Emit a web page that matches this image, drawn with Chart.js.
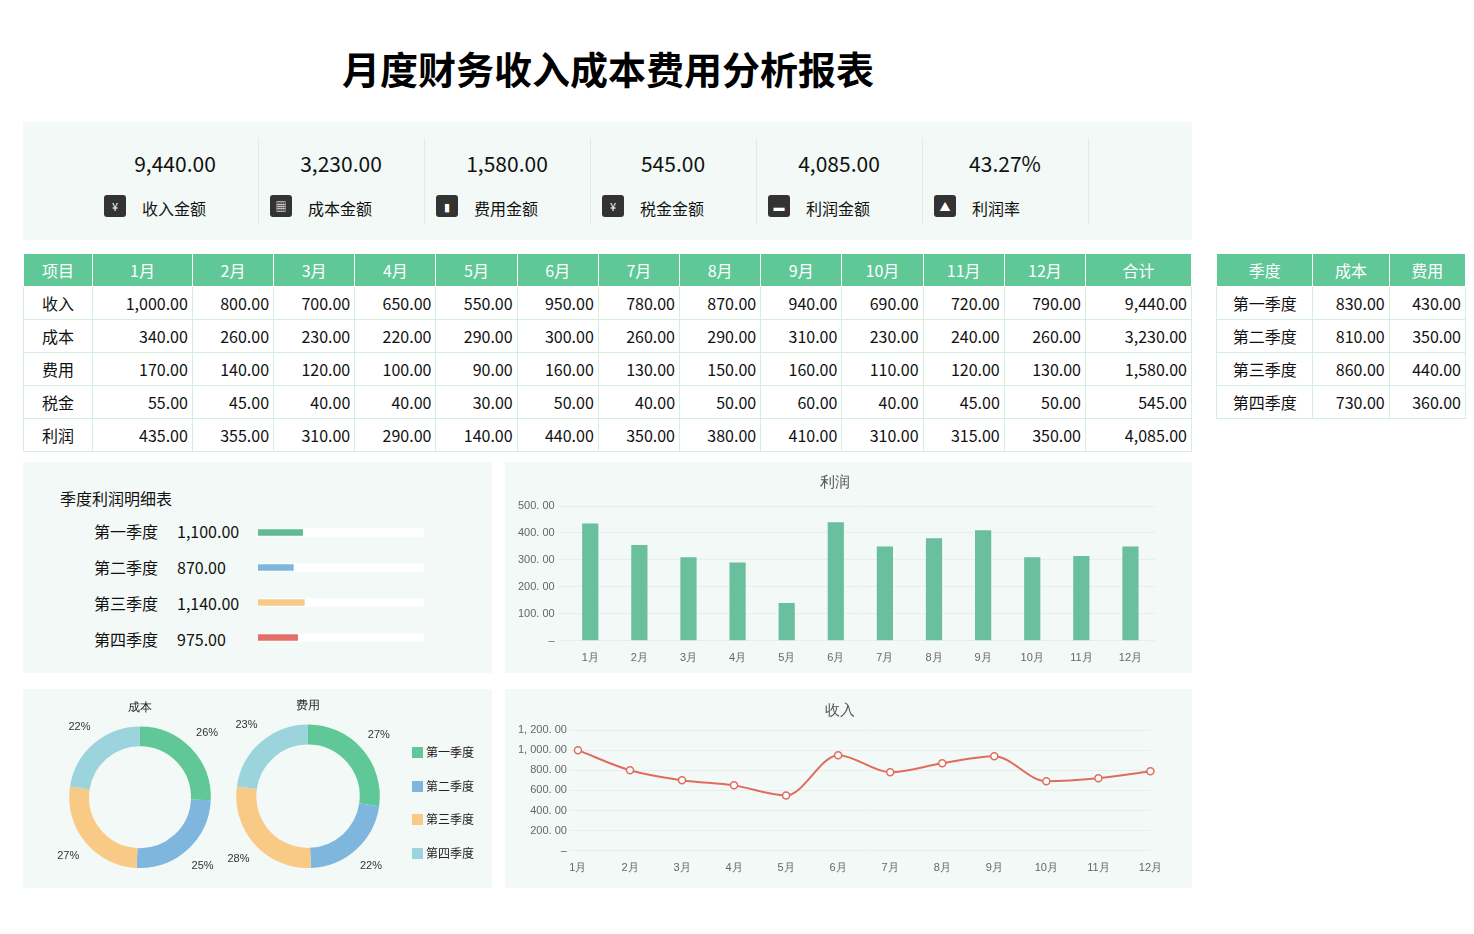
<!DOCTYPE html>
<html><head><meta charset="utf-8">
<script src="https://cdn.jsdelivr.net/npm/chart.js@4.4.0/dist/chart.umd.min.js"></script>
<style>
body{margin:0;background:#fff;font-family:"Microsoft YaHei","Noto Sans CJK SC",sans-serif;width:1474px;height:934px;position:relative;overflow:hidden}
.abs{position:absolute}
.panel{position:absolute;background:#f3f9f6}
#title{left:0;width:1216px;top:40px;text-align:center;font-size:38px;font-weight:bold;color:#000}
.kpi{position:absolute;top:138px;width:166px;height:86px;border-right:1px solid #e2ece7}
.kpi .v{position:absolute;top:10px;width:100%;text-align:center;font-size:21px;color:#111}
.kpi .l{position:absolute;top:58px;left:50px;font-size:16px;color:#111}
.kpi .ic{position:absolute;top:57px;left:12px;width:22px;height:22px;background:#333;border-radius:3px;color:#fff;font-size:11px;text-align:center;line-height:22px}
table{border-collapse:collapse;position:absolute;font-size:16px;color:#111}
td,th{border:1px solid #d4eee0;height:32px;padding:0 4px;text-align:right}
th{background:#5fc896;color:#fff;font-weight:normal;text-align:center;border-color:#fff}
td.c{text-align:center}
.qrow{position:absolute;font-size:16px;color:#111}
</style></head><body>
<div id="title" class="abs">月度财务收入成本费用分析报表</div>
<div class="panel" style="left:23px;top:122px;width:1169px;height:118px"></div>
<div id="kpis"></div>
<table id="main" style="left:23px;top:253px;width:1169px"></table>
<table id="quarter" style="left:1216px;top:253px;width:250px"></table>

<div class="panel" style="left:23px;top:462px;width:469px;height:211px"></div>
<div class="abs" style="left:60px;top:486px;font-size:16px;color:#111">季度利润明细表</div>
<div id="qlabels"></div>
<div class="abs" style="left:250px;top:515px;width:182px;height:140px"><canvas id="prog"></canvas></div>

<div class="panel" style="left:505px;top:462px;width:687px;height:211px"></div>
<div class="abs" style="left:515px;top:470px;width:640px;height:198px"><canvas id="bar"></canvas></div>

<div class="panel" style="left:23px;top:689px;width:469px;height:199px"></div>
<div class="abs" style="left:40px;top:696px;width:200px;height:186px"><canvas id="d1"></canvas></div>
<div class="abs" style="left:208px;top:694px;width:200px;height:188px"><canvas id="d2"></canvas></div>
<div id="legend"></div>

<div class="panel" style="left:505px;top:689px;width:687px;height:199px"></div>
<div class="abs" style="left:515px;top:698px;width:650px;height:180px"><canvas id="line"></canvas></div>

<script>
const months = ['1月','2月','3月','4月','5月','6月','7月','8月','9月','10月','11月','12月'];
const income = [1000,800,700,650,550,950,780,870,940,690,720,790];
const cost = [340,260,230,220,290,300,260,290,310,230,240,260];
const expense = [170,140,120,100,90,160,130,150,160,110,120,130];
const tax = [55,45,40,40,30,50,40,50,60,40,45,50];
const profit = [435,355,310,290,140,440,350,380,410,310,315,350];
const quarters = ['第一季度','第二季度','第三季度','第四季度'];
const qCost = [830,810,860,730];
const qExpense = [430,350,440,360];
const qProfit = [1100,870,1140,975];
const qCostPct = ['26%','25%','27%','22%'];
const qExpensePct = ['27%','22%','28%','23%'];
const kpiLabels = ['收入金额','成本金额','费用金额','税金金额','利润金额','利润率'];
const kpiValues = ['9,440.00','3,230.00','1,580.00','545.00','4,085.00','43.27%'];
const kpiIcons = ['¥','▦','▮','¥','▬','▲'];
const qColors = ['#5fc896','#7fb6de','#f9ca86','#9bd4dc'];
const barQColors = ['#5fba96','#7fb6de','#f9ca86','#e2706a'];

const fmt = v => v.toLocaleString('en-US',{minimumFractionDigits:2,maximumFractionDigits:2});
const sum = a => a.reduce((s,x)=>s+x,0);

let k='';
kpiLabels.forEach((l,i)=>{
  k+=`<div class="kpi" style="left:${92+i*166}px"><div class="v">${kpiValues[i]}</div><div class="ic">${kpiIcons[i]}</div><div class="l">${l}</div></div>`;
});
document.getElementById('kpis').innerHTML=k;

let h='<tr><th style="width:60px">项目</th>'+months.map(m=>`<th>${m}</th>`).join('')+'<th style="width:97px">合计</th></tr>';
[['收入',income],['成本',cost],['费用',expense],['税金',tax],['利润',profit]].forEach(([n,a])=>{
  h+=`<tr><td class="c">${n}</td>`+a.map(v=>`<td>${fmt(v)}</td>`).join('')+`<td>${fmt(sum(a))}</td></tr>`;
});
document.getElementById('main').innerHTML=h;
let q='<tr><th>季度</th><th>成本</th><th>费用</th></tr>';
quarters.forEach((n,i)=>{q+=`<tr><td class="c">${n}</td><td>${fmt(qCost[i])}</td><td>${fmt(qExpense[i])}</td></tr>`;});
document.getElementById('quarter').innerHTML=q;

let ql='';
quarters.forEach((n,i)=>{ql+=`<div class="qrow" style="left:94px;top:${519+i*36}px">${n}</div><div class="qrow" style="left:177px;top:${519+i*36}px">${fmt(qProfit[i])}</div>`;});
document.getElementById('qlabels').innerHTML=ql;

let lg='';
quarters.forEach((n,i)=>{lg+=`<div class="abs" style="left:412px;top:${743+i*33.5}px;font-size:12px;color:#222"><span style="display:inline-block;width:11px;height:11px;background:${qColors[i]};margin-right:3px;vertical-align:-1px"></span>${n}</div>`;});
document.getElementById('legend').innerHTML=lg;

const total = sum(profit);
new Chart(document.getElementById('prog'),{type:'bar',
  data:{labels:quarters,datasets:[
    {data:qProfit,backgroundColor:barQColors,barThickness:6,grouped:false,order:0},
    {data:quarters.map(()=>total),backgroundColor:'#ffffff',barThickness:8,grouped:false,order:1}]},
  options:{indexAxis:'y',responsive:true,maintainAspectRatio:false,animation:false,
    plugins:{legend:{display:false},tooltip:{enabled:false}},
    layout:{padding:{left:8,right:8}},
    scales:{x:{display:false,min:0,max:total},y:{display:false}}}});

const numLbl = v => v===0?'–':fmt(v).replace(',',', ').replace('.','. ');
new Chart(document.getElementById('bar'),{type:'bar',
  data:{labels:months,datasets:[{data:profit,backgroundColor:'#6abf9f',barPercentage:0.33,categoryPercentage:1}]},
  options:{responsive:true,maintainAspectRatio:false,animation:false,
    plugins:{legend:{display:false},title:{display:true,text:'利润',color:'#555',font:{size:15,weight:'normal'},padding:{top:4,bottom:14}}},
    scales:{y:{min:0,max:500,ticks:{stepSize:100,color:'#666',font:{size:11},callback:numLbl},grid:{color:'#e8eeeb'},border:{display:false}},
      x:{grid:{display:false},ticks:{color:'#666',font:{size:11}},border:{color:'#e8eeeb'}}}}});

new Chart(document.getElementById('line'),{type:'line',
  data:{labels:months,datasets:[{data:income,borderColor:'#e06c5f',backgroundColor:'#fff',borderWidth:2,pointRadius:3.5,pointBorderWidth:1.5,cubicInterpolationMode:'monotone',tension:0.4}]},
  options:{responsive:true,maintainAspectRatio:false,animation:false,
    plugins:{legend:{display:false},title:{display:true,text:'收入',color:'#555',font:{size:15,weight:'normal'},padding:{top:4,bottom:10}}},
    scales:{y:{min:0,max:1200,ticks:{stepSize:200,color:'#666',font:{size:11},callback:numLbl},grid:{color:'#e8eeeb'},border:{display:false}},
      x:{grid:{display:false},ticks:{color:'#666',font:{size:11}},border:{display:false}}}}});

const outLabels={id:'outLabels',afterDatasetsDraw(c,a,opts){
  const ctx=c.ctx;const meta=c.getDatasetMeta(0);
  ctx.save();ctx.font='11px sans-serif';ctx.fillStyle='#333';ctx.textAlign='center';ctx.textBaseline='middle';
  meta.data.forEach((arc,i)=>{const p=arc.getProps(['x','y','startAngle','endAngle','outerRadius']);
    const m=(p.startAngle+p.endAngle)/2;const r=p.outerRadius+22;
    ctx.fillText(opts.labels[i],p.x+Math.cos(m)*r,p.y+Math.sin(m)*r);});
  ctx.restore();}};
function donut(id,data,lbls,title){
  new Chart(document.getElementById(id),{type:'doughnut',plugins:[outLabels],
    data:{labels:quarters,datasets:[{data,backgroundColor:qColors,borderWidth:0}]},
    options:{responsive:true,maintainAspectRatio:false,animation:false,cutout:'72%',
      layout:{padding:{left:22,right:22,bottom:14}},
      plugins:{legend:{display:false},tooltip:{enabled:false},outLabels:{labels:lbls},
        title:{display:true,text:title,color:'#222',font:{size:12,weight:'normal'},padding:{top:4,bottom:12}}}}});
}
donut('d1',qCost,qCostPct,'成本');
donut('d2',qExpense,qExpensePct,'费用');
</script>
</body></html>
